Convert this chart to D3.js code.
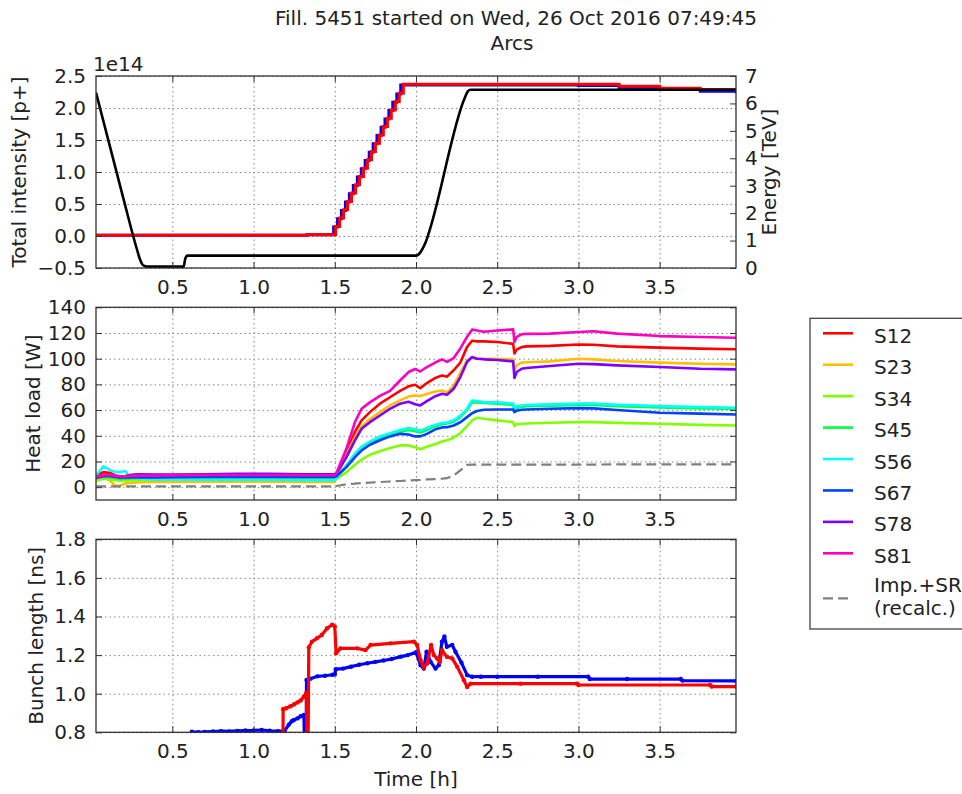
<!DOCTYPE html>
<html><head><meta charset="utf-8">
<script src="https://cdn.jsdelivr.net/npm/d3@7"></script>
<style>
html,body{margin:0;padding:0;background:#fff;}
svg{display:block;font-family:"DejaVu Sans",sans-serif;}
</style></head><body>
<svg id="chart" width="962" height="794"></svg>
<script>
// ---------- DATA ----------
const titleLine1 = "Fill. 5451 started on Wed, 26 Oct 2016 07:49:45";
const titleLine2 = "Arcs";
const xTicks = [0.5, 1.0, 1.5, 2.0, 2.5, 3.0, 3.5];
const intTicks = [-0.5, 0.0, 0.5, 1.0, 1.5, 2.0, 2.5];
const energyTicks = [0, 1, 2, 3, 4, 5, 6, 7];
const heatTicks = [0, 20, 40, 60, 80, 100, 120, 140];
const blTicks = [0.8, 1.0, 1.2, 1.4, 1.6, 1.8];

// Top panel: total intensity (1e14 p+) per beam, energy (TeV)
const intTimeB1 = [0.03, 1.33, 1.493, 1.517, 1.541, 1.566, 1.590, 1.614, 1.639, 1.663, 1.687, 1.712, 1.736, 1.760, 1.785, 1.809, 1.833, 1.857, 1.882, 1.906, 2.5, 3.0, 3.25, 3.5, 3.75, 3.97];
const intB1 = [0.01, 0.02, 0.14, 0.27, 0.40, 0.53, 0.66, 0.79, 0.92, 1.05, 1.18, 1.31, 1.44, 1.57, 1.70, 1.83, 1.96, 2.09, 2.22, 2.36, 2.36, 2.35, 2.32, 2.29, 2.26, 2.23];
const intTimeB2 = [0.03, 1.33, 1.505, 1.530, 1.554, 1.579, 1.603, 1.628, 1.652, 1.677, 1.701, 1.726, 1.750, 1.775, 1.799, 1.824, 1.848, 1.873, 1.897, 1.922, 2.5, 3.0, 3.25, 3.5, 3.75, 3.97];
const intB2 = [0.01, 0.02, 0.15, 0.28, 0.41, 0.54, 0.67, 0.80, 0.93, 1.06, 1.19, 1.32, 1.45, 1.58, 1.71, 1.84, 1.97, 2.10, 2.23, 2.37, 2.37, 2.37, 2.34, 2.31, 2.29, 2.27];
const energyTime = [0.03, 0.20, 0.28, 0.30, 0.32, 0.345, 0.57, 0.578, 0.592, 2.0, 2.02, 2.04, 2.06, 2.08, 2.30, 2.32, 2.335, 3.97];
const energy = [6.4, 2.5, 0.72, 0.33, 0.1, 0.05, 0.05, 0.3, 0.45, 0.45, 0.52, 0.7, 0.95, 1.3, 6.2, 6.45, 6.5, 6.5];

// Middle panel: heat load per sector (W)
const hlTime = [0.03, 0.075, 0.12, 0.15, 0.18, 0.21, 0.23, 0.26, 0.30, 0.40, 0.50, 0.70, 0.90, 1.10, 1.30, 1.50, 1.51, 1.572, 1.624, 1.665, 1.716, 1.778, 1.84, 1.902, 1.954, 1.995, 2.026, 2.067, 2.119, 2.16, 2.191, 2.232, 2.273, 2.314, 2.345, 2.376, 2.418, 2.5, 2.598, 2.606, 2.62, 2.65, 2.68, 2.825, 3.0, 3.093, 3.237, 3.5, 3.75, 3.97];
const sectorNames = ["S12", "S23", "S34", "S45", "S56", "S67", "S78", "S81"];
const sectorColors = ["#ff0000", "#ffbf00", "#80ff00", "#00ff40", "#00ffff", "#0040ff", "#7f00ff", "#ff00bf"];
const hlS12 = [9.1, 11.7, 10.9, 9.1, 5.5, 6, 6.5, 7, 7.2, 7.5, 7.5, 7.8, 8, 8, 7.8, 7.8, 9, 27, 43, 52, 58.4, 65, 70, 75, 78.5, 79.7, 77, 81, 85, 87, 86, 91, 97, 109, 114, 113.5, 113.5, 113, 111.5, 104, 107, 109, 109.6, 110, 111, 110.8, 109.6, 108.6, 107.8, 107.3];
const hlS23 = [6.5, 8, 4.7, 0.8, 1.3, 2.8, 3.2, 3.5, 3.8, 4, 4, 4.2, 4.2, 4.2, 4, 4, 7.8, 24.7, 39, 47, 53, 58.4, 63.6, 67.5, 70.5, 71.4, 71, 72.5, 74.5, 75.3, 73.8, 79, 89, 98.7, 100.5, 100, 100, 100, 99.5, 91, 94.8, 96.9, 97.2, 97.9, 100, 99.5, 98.2, 96.9, 96.1, 95.6];
const hlS34 = [5, 6.5, 6, 5.5, 5, 5, 5.2, 5.5, 5.5, 5.8, 6, 6, 6.2, 6.2, 6, 6, 6.5, 11.7, 17.5, 21.5, 25.2, 28, 30.5, 32.5, 32.5, 31, 29.5, 31.5, 33.5, 35.5, 36.5, 38.5, 42, 47.5, 52, 54, 53.2, 52, 50.6, 47.5, 49, 49.3, 49.5, 50.1, 50.6, 50.6, 50, 49.3, 48.5, 48];
const hlS45 = [7, 8, 7.5, 7, 6.5, 6.5, 6.8, 7, 7, 7, 7.2, 7.4, 7.5, 7.5, 7.3, 7.2, 7.5, 17, 25, 30.5, 35, 38.5, 41, 43, 44.5, 43.5, 42.5, 44.5, 47.5, 49, 49.5, 51, 54.5, 60, 66, 66, 65.5, 65, 64, 59, 61.5, 62.5, 63, 63.5, 64, 64, 63, 62, 61.3, 61];
const hlS56 = [9.1, 16.2, 13, 12, 11.7, 12.5, 9.1, 7.3, 6.5, 6, 6, 5.8, 5.8, 5.8, 5.5, 5.5, 6.5, 16.9, 26, 31.5, 35.5, 39.5, 42, 44.5, 46, 45, 44, 46, 48.5, 50, 50.3, 52, 55.5, 61, 67.5, 67, 66.2, 66, 65, 61, 63, 63.6, 64, 64.4, 65, 65, 64.2, 63.1, 62.3, 61.8];
const hlS67 = [7.5, 9, 8.5, 8, 7.5, 7.5, 7.5, 7.5, 7.5, 7.5, 7.8, 8, 8, 8, 8, 8, 8.5, 15.6, 23.4, 28.5, 33, 36.5, 39.5, 41.5, 41, 39.5, 39.5, 41.5, 45, 46.5, 46.7, 48, 50.5, 54.5, 57.5, 59.3, 60.3, 60.5, 60.5, 58.4, 59.5, 60.2, 60.5, 61, 61.5, 61.3, 60, 57.9, 57.2, 56.6];
const hlS78 = [7.3, 8.5, 9.1, 8.5, 7.8, 8.5, 9.3, 9.8, 10, 9.8, 9.8, 10, 10.3, 10.3, 10, 10, 10.5, 23.4, 36.4, 45.4, 50.6, 55.8, 61, 65, 66.5, 64.5, 63.6, 67, 70.8, 72.7, 72, 76.6, 85.7, 97.4, 101.3, 100, 99.5, 99, 97.9, 85, 89.6, 92.2, 92.8, 94.3, 96.1, 95.8, 94.8, 93.5, 92.2, 91.7];
const hlS81 = [8, 9.5, 9.5, 9, 8.5, 8.5, 8.8, 9, 9, 9, 9.2, 9.5, 9.5, 9.5, 9.3, 9.3, 11, 30, 50.6, 61, 66, 71, 75, 83, 89.6, 92, 90, 93.5, 97, 99.5, 97.5, 100.5, 108, 117, 122.6, 122, 121, 122, 122.8, 113, 117, 119, 119.3, 119.5, 120.8, 121.3, 119.5, 117.6, 116.9, 116.3];
const hlImpSR = [0.6, 0.6, 0.6, 0.6, 0.6, 0.6, 0.6, 0.6, 0.6, 0.6, 0.6, 0.6, 0.6, 0.6, 0.6, 0.6, 0.9, 2.3, 2.7, 3.2, 3.6, 4, 4.4, 4.8, 5.2, 5.4, 5.6, 6, 6.3, 6.6, 7, 9, 13, 17.4, 17.5, 17.5, 17.5, 17.5, 17.5, 17.5, 17.5, 17.5, 17.5, 17.6, 17.6, 17.6, 17.7, 17.7, 17.7, 17.7];
const impLabel = ["Imp.+SR", "(recalc.)"];

// Bottom panel: bunch length (ns)
const blTimeB1 = [0.62, 0.66, 0.70, 0.75, 0.80, 0.85, 0.90, 0.95, 1.00, 1.05, 1.10, 1.15, 1.19, 1.217, 1.235, 1.248, 1.27, 1.29, 1.31, 1.322, 1.326, 1.35, 1.393, 1.44, 1.486, 1.50, 1.506, 1.55, 1.60, 1.65, 1.70, 1.75, 1.80, 1.85, 1.907, 1.95, 2.0, 2.028, 2.048, 2.065, 2.09, 2.12, 2.14, 2.16, 2.175, 2.19, 2.223, 2.243, 2.28, 2.315, 2.346, 2.40, 2.5, 2.75, 3.06, 3.07, 3.3, 3.63, 3.64, 3.97];
const blB1 = [0.803, 0.80, 0.802, 0.804, 0.806, 0.805, 0.807, 0.809, 0.81, 0.812, 0.808, 0.806, 0.806, 0.84, 0.857, 0.864, 0.872, 0.883, 0.89, 0.4, 1.071, 1.078, 1.09, 1.093, 1.098, 1.10, 1.127, 1.13, 1.14, 1.15, 1.158, 1.165, 1.172, 1.18, 1.192, 1.20, 1.215, 1.148, 1.13, 1.217, 1.165, 1.13, 1.148, 1.27, 1.296, 1.243, 1.252, 1.217, 1.16, 1.096, 1.088, 1.088, 1.088, 1.088, 1.088, 1.076, 1.076, 1.076, 1.068, 1.066];
const blTimeB2 = [1.18, 1.182, 1.20, 1.228, 1.25, 1.27, 1.29, 1.31, 1.325, 1.333, 1.34, 1.36, 1.39, 1.42, 1.453, 1.484, 1.50, 1.508, 1.535, 1.638, 1.689, 1.72, 1.843, 1.987, 2.007, 2.028, 2.048, 2.069, 2.093, 2.11, 2.13, 2.147, 2.16, 2.19, 2.223, 2.254, 2.295, 2.315, 2.336, 2.644, 2.99, 3.0, 3.81, 3.82, 3.97];
const blB2 = [0.5, 0.92, 0.925, 0.935, 0.945, 0.955, 0.965, 0.985, 1.005, 0.4, 1.24, 1.27, 1.287, 1.304, 1.339, 1.357, 1.348, 1.209, 1.235, 1.235, 1.226, 1.252, 1.261, 1.27, 1.252, 1.174, 1.136, 1.157, 1.252, 1.2, 1.183, 1.165, 1.226, 1.191, 1.183, 1.139, 1.07, 1.035, 1.052, 1.052, 1.052, 1.045, 1.045, 1.037, 1.037];

// ---------- DRAW ----------
const svg = d3.select("#chart");
const FONT = 20, TXT = "#222", AX = "#333";
const X0 = 96, X1 = 736;
const x = d3.scaleLinear().domain([0.03, 3.97]).range([X0, X1]);
const P = {
  top: {y0: 76, y1: 268},
  mid: {y0: 307.3, y1: 500},
  bot: {y0: 539.3, y1: 732.3}
};
const yInt = d3.scaleLinear().domain([-0.5, 2.5]).range([P.top.y1, P.top.y0]);
const yE = d3.scaleLinear().domain([0, 7]).range([P.top.y1, P.top.y0]);
const yHL = d3.scaleLinear().domain([-10, 140]).range([P.mid.y1, P.mid.y0]);
const yBL = d3.scaleLinear().domain([0.8, 1.8]).range([P.bot.y1, P.bot.y0]);

const f1 = d3.format(".1f");

function styleAxis(g) {
  g.select(".domain").remove();
  g.selectAll(".tick line").attr("stroke", AX).attr("stroke-width", 1);
  g.selectAll(".tick text").attr("font-size", FONT).attr("fill", TXT).attr("font-family", "DejaVu Sans");
}
function grid(p, yScale, yTicks) {
  const g = svg.append("g");
  const gx = g.append("g").attr("transform", `translate(0,${p.y1})`)
    .call(d3.axisBottom(x).tickValues(xTicks).tickSize(-(p.y1 - p.y0)).tickFormat(""));
  const gy = g.append("g").attr("transform", `translate(${X0},0)`)
    .call(d3.axisLeft(yScale).tickValues(yTicks).tickSize(-(X1 - X0)).tickFormat(""));
  [gx, gy].forEach(a => {
    a.select(".domain").remove();
    a.selectAll(".tick line").attr("stroke", "#888").attr("stroke-width", 1).attr("stroke-dasharray", "1.5,3");
  });
}
function frame(p, yLeft, leftTicks, leftFmt, yRight, rightTicks, rightFmt) {
  const g = svg.append("g");
  g.append("g").attr("transform", `translate(0,${p.y1})`)
    .call(d3.axisBottom(x).tickValues(xTicks).tickSize(-6).tickPadding(12).tickFormat(f1)).call(styleAxis);
  g.append("g").attr("transform", `translate(0,${p.y0})`)
    .call(d3.axisTop(x).tickValues(xTicks).tickSize(-6).tickFormat("")).call(styleAxis);
  g.append("g").attr("transform", `translate(${X0},0)`)
    .call(d3.axisLeft(yLeft).tickValues(leftTicks).tickSize(-6).tickPadding(10).tickFormat(leftFmt)).call(styleAxis);
  g.append("g").attr("transform", `translate(${X1},0)`)
    .call(d3.axisRight(yRight).tickValues(rightTicks).tickSize(-6).tickPadding(9).tickFormat(rightFmt)).call(styleAxis);
  g.append("rect").attr("x", X0).attr("y", p.y0).attr("width", X1 - X0).attr("height", p.y1 - p.y0)
    .attr("fill", "none").attr("stroke", AX).attr("stroke-width", 1.3);
}
function clip(id, p) {
  svg.append("clipPath").attr("id", id).append("rect")
    .attr("x", X0).attr("y", p.y0).attr("width", X1 - X0).attr("height", p.y1 - p.y0);
  return svg.append("g").attr("clip-path", `url(#${id})`);
}
function pairs(t, v) { return t.map((d, i) => [d, v[i]]); }

// Titles
svg.append("text").attr("x", 516).attr("y", 25).attr("text-anchor", "middle")
  .attr("font-size", FONT).attr("fill", TXT).text(titleLine1);
svg.append("text").attr("x", 512).attr("y", 50).attr("text-anchor", "middle")
  .attr("font-size", FONT).attr("fill", TXT).text(titleLine2);

// ----- Top panel -----
grid(P.top, yInt, intTicks);
const gTop = clip("clipTop", P.top);
const stepLine = (ys) => d3.line().x(d => x(d[0])).y(d => ys(d[1])).curve(d3.curveStepAfter);
gTop.append("path").datum(pairs(intTimeB1, intB1)).attr("d", stepLine(yInt))
  .attr("fill", "none").attr("stroke", "#0000ff").attr("stroke-width", 3);
gTop.append("path").datum(pairs(intTimeB2, intB2)).attr("d", stepLine(yInt))
  .attr("fill", "none").attr("stroke", "#ff0000").attr("stroke-width", 3);
gTop.append("path").datum(pairs(energyTime, energy))
  .attr("d", d3.line().x(d => x(d[0])).y(d => yE(d[1])).curve(d3.curveMonotoneX))
  .attr("fill", "none").attr("stroke", "#000").attr("stroke-width", 2.6);
frame(P.top, yInt, intTicks, f1, yE, energyTicks, d3.format("d"));
svg.append("text").attr("x", 93).attr("y", 71).attr("font-size", FONT).attr("fill", TXT).text("1e14");
svg.append("text").attr("transform", `translate(26,${(P.top.y0 + P.top.y1) / 2}) rotate(-90)`)
  .attr("text-anchor", "middle").attr("font-size", FONT).attr("fill", TXT).text("Total intensity [p+]");
svg.append("text").attr("transform", `translate(776,${(P.top.y0 + P.top.y1) / 2}) rotate(-90)`)
  .attr("text-anchor", "middle").attr("font-size", FONT).attr("fill", TXT).text("Energy [TeV]");

// ----- Middle panel -----
grid(P.mid, yHL, heatTicks);
const gMid = clip("clipMid", P.mid);
const hlSeries = [hlS12, hlS23, hlS34, hlS45, hlS56, hlS67, hlS78, hlS81];
const hlLine = d3.line().x(d => x(d[0])).y(d => yHL(d[1]));
hlSeries.forEach((s, i) => {
  gMid.append("path").datum(pairs(hlTime, s)).attr("d", hlLine)
    .attr("fill", "none").attr("stroke", sectorColors[i]).attr("stroke-width", 2.6)
    .attr("stroke-linejoin", "round");
});
gMid.append("path").datum(pairs(hlTime, hlImpSR)).attr("d", hlLine)
  .attr("fill", "none").attr("stroke", "#808080").attr("stroke-width", 2.2).attr("stroke-dasharray", "10,5");
frame(P.mid, yHL, heatTicks, d3.format("d"), yHL, heatTicks, "");
svg.append("text").attr("transform", `translate(39.5,${(P.mid.y0 + P.mid.y1) / 2}) rotate(-90)`)
  .attr("text-anchor", "middle").attr("font-size", FONT).attr("fill", TXT).text("Heat load [W]");

// ----- Bottom panel -----
grid(P.bot, yBL, blTicks);
const gBot = clip("clipBot", P.bot);
const blLine = d3.line().x(d => x(d[0])).y(d => yBL(d[1]));
[[blTimeB1, blB1, "#0000ff"], [blTimeB2, blB2, "#ff0000"]].forEach(([t, v, c]) => {
  const data = pairs(t, v);
  gBot.append("path").datum(data).attr("d", blLine)
    .attr("fill", "none").attr("stroke", c).attr("stroke-width", 3.2).attr("stroke-linejoin", "round");
  gBot.selectAll(null).data(data.filter(d => d[1] >= 0.8)).enter().append("circle")
    .attr("cx", d => x(d[0])).attr("cy", d => yBL(d[1])).attr("r", 2.2).attr("fill", c);
});
frame(P.bot, yBL, blTicks, f1, yBL, blTicks, "");
svg.append("text").attr("transform", `translate(43,${(P.bot.y0 + P.bot.y1) / 2}) rotate(-90)`)
  .attr("text-anchor", "middle").attr("font-size", FONT).attr("fill", TXT).text("Bunch length [ns]");
svg.append("text").attr("x", (X0 + X1) / 2).attr("y", 786).attr("text-anchor", "middle")
  .attr("font-size", FONT).attr("fill", TXT).text("Time [h]");

// ----- Legend -----
const lg = svg.append("g");
lg.append("rect").attr("x", 810).attr("y", 318.3).attr("width", 200).attr("height", 310.7)
  .attr("fill", "#fff").attr("stroke", AX).attr("stroke-width", 1.2);
sectorNames.forEach((n, i) => {
  const yy = 333.3 + i * 31.43;
  lg.append("line").attr("x1", 823).attr("x2", 853).attr("y1", yy).attr("y2", yy)
    .attr("stroke", sectorColors[i]).attr("stroke-width", 2.6);
  lg.append("text").attr("x", 874).attr("y", yy + 9.5).attr("font-size", FONT).attr("fill", TXT).text(n);
});
lg.append("line").attr("x1", 823).attr("x2", 853).attr("y1", 598.3).attr("y2", 598.3)
  .attr("stroke", "#808080").attr("stroke-width", 2.2).attr("stroke-dasharray", "10,5");
lg.append("text").attr("x", 874).attr("y", 591.5).attr("font-size", FONT).attr("fill", TXT).text(impLabel[0]);
lg.append("text").attr("x", 874).attr("y", 614.5).attr("font-size", FONT).attr("fill", TXT).text(impLabel[1]);
</script>
</body></html>
